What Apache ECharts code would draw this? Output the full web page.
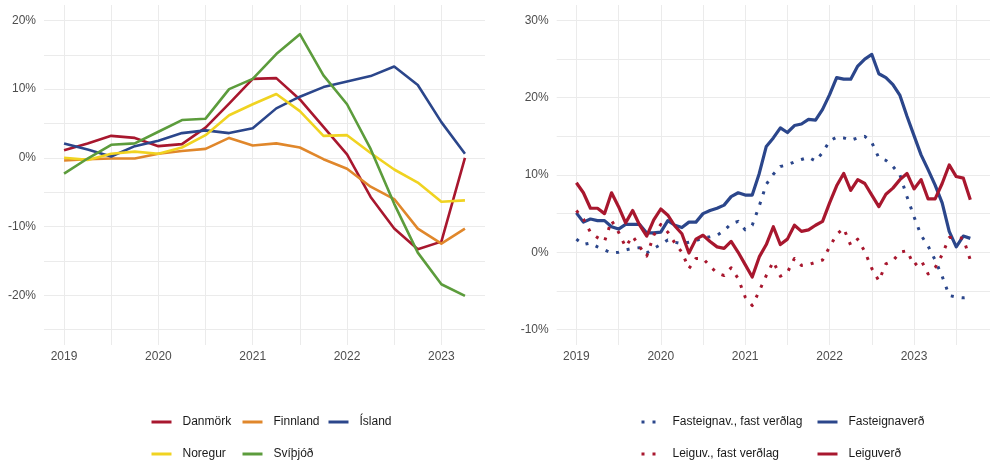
<!DOCTYPE html>
<html>
<head>
<meta charset="utf-8">
<script src="https://cdn.jsdelivr.net/npm/echarts@6/dist/echarts.min.js"></script>
<style>
  html, body { margin: 0; padding: 0; background: #fff; }
  #chart { width: 990px; height: 463px; }
</style>
</head>
<body>
<div id="chart"></div>
<script>
// Left panel: quarterly year-on-year change of house prices in the Nordics (%)
const quarters = [
  "2019-01", "2019-04", "2019-07", "2019-10",
  "2020-01", "2020-04", "2020-07", "2020-10",
  "2021-01", "2021-04", "2021-07", "2021-10",
  "2022-01", "2022-04", "2022-07", "2022-10",
  "2023-01", "2023-04",
];
const danmork = [1.1, 2.1, 3.2, 2.9, 1.7, 2.0, 4.4, 7.9, 11.5, 11.6, 8.5, 4.5, 0.5, -5.7, -10.3, -13.3, -12.2, 0.0];
const finnland = [-0.4, -0.2, -0.1, -0.1, 0.6, 1.0, 1.3, 2.9, 1.8, 2.1, 1.5, -0.2, -1.6, -4.2, -6.0, -10.3, -12.5, -10.3];
const island = [2.1, 1.2, 0.2, 1.7, 2.5, 3.6, 4.0, 3.6, 4.3, 7.2, 8.9, 10.3, 11.1, 11.9, 13.3, 10.6, 5.2, 0.6];
const noregur = [0.0, -0.3, 0.6, 0.9, 0.6, 1.5, 3.3, 6.2, 7.8, 9.3, 6.8, 3.2, 3.3, 0.7, -1.7, -3.6, -6.4, -6.2];
const svithjod = [-2.3, -0.1, 1.9, 2.1, 3.8, 5.5, 5.7, 10.0, 11.5, 15.1, 18.0, 12.0, 7.8, 1.3, -6.7, -13.8, -18.4, -20.1];

// Right panel: monthly year-on-year change, Iceland (%), Jan 2019 - Sep 2023
const months = [];
for (let y = 2019; y <= 2023; y++) {
  for (let m = 1; m <= 12; m++) {
    if (y === 2023 && m > 9) break;
    months.push(y + "-" + String(m).padStart(2, "0"));
  }
}
const fasteignaverd = [
  5.1, 3.9, 4.3, 4.1, 4.1, 3.3, 3.0, 3.6, 3.6, 3.6, 2.5, 2.5,
  2.6, 4.1, 3.5, 3.2, 3.9, 3.9, 5.0, 5.4, 5.7, 6.1, 7.2, 7.7,
  7.4, 7.4, 10.2, 13.7, 14.8, 16.1, 15.5, 16.4, 16.6, 17.2, 17.1, 18.5,
  20.4, 22.6, 22.4, 22.4, 24.1, 25.0, 25.6, 23.1, 22.6, 21.7, 20.3, 17.6,
  15.1, 12.6, 10.7, 8.7, 6.4, 2.7, 0.7, 2.1, 1.8,
];
const fasteignavFast = [
  1.7, 1.0, 1.2, 0.7, 0.3, -0.1, 0.0, 0.3, 0.5, 0.6, -0.1, 0.5,
  1.0, 1.6, 1.3, 1.1, 1.3, 1.5, 1.9, 2.0, 2.2, 2.8, 3.7, 4.0,
  2.9, 3.5, 6.0, 8.8, 10.1, 11.1, 11.3, 11.7, 12.0, 12.3, 11.8, 12.9,
  14.4, 14.9, 14.8, 14.5, 14.8, 15.0, 14.2, 12.2, 11.9, 11.1, 10.0, 7.2,
  4.6, 2.2, 0.8, -1.0, -3.1, -5.6, -5.8, -5.9, -5.8,
];
const leiguverd = [
  9.0, 7.7, 5.7, 5.7, 5.0, 7.7, 5.9, 3.8, 5.4, 3.5, 2.1, 4.2,
  5.6, 4.8, 3.4, 2.4, -0.1, 1.7, 2.2, 1.4, 0.7, 0.5, 1.4, 0.0,
  -1.6, -3.2, -0.6, 1.0, 3.3, 1.0, 1.7, 3.5, 2.7, 2.9, 3.5, 4.0,
  6.4, 8.6, 10.2, 8.0, 9.4, 8.9, 7.4, 5.9, 7.5, 8.3, 9.4, 10.2,
  8.2, 9.4, 6.9, 6.9, 8.9, 11.3, 9.8, 9.6, 6.8,
];
const leiguvFast = [
  5.4, 4.3, 2.6, 1.9, 1.4, 4.1, 2.6, 0.7, 2.1, 0.7, -0.5, 2.2,
  3.6, 2.6, 1.2, 0.0, -2.1, -0.8, -0.8, -1.8, -2.7, -3.0, -2.0, -3.4,
  -5.8, -6.9, -5.0, -3.0, -1.2, -3.1, -2.6, -0.8, -1.7, -1.6, -1.3, -1.0,
  0.7, 2.3, 3.1, 0.9, 1.7, 0.1, -2.1, -3.7, -1.5, -1.1, 0.0, 0.2,
  -1.7, -1.0, -2.8, -2.0, -0.3, 1.9, 1.9, 1.8, -1.0,
];

const leftTicks = [-25, -20, -15, -10, -5, 0, 5, 10, 15, 20];
const leftLabels = [-20, -10, 0, 10, 20];
const rightTicks = [-10, -5, 0, 5, 10, 15, 20, 25, 30];
const rightLabels = [-10, 0, 10, 20, 30];
const leftYears = [2019, 2019.5, 2020, 2020.5, 2021, 2021.5, 2022, 2022.5, 2023];
const rightYears = [2019, 2019.5, 2020, 2020.5, 2021, 2021.5, 2022, 2022.5, 2023, 2023.5];
const yearLabels = [2019, 2020, 2021, 2022, 2023];

const RED = "#a8172e";
const ORANGE = "#e0872b";
const BLUE = "#2b468b";
const YELLOW = "#f0d321";
const GREEN = "#5c9c3c";
const FONT = "Liberation Sans, Arial, sans-serif";

// "2021-04" -> 2021.25
function toYear(s) {
  return +s.slice(0, 4) + (+s.slice(5, 7) - 1) / 12;
}
function pairs(xs, ys) {
  return ys.map((v, i) => [toYear(xs[i]), v]);
}

const gridLine = { show: true, lineStyle: { color: "#ebebeb", width: 1 } };
const axisText = { color: "#4d4d4d", fontSize: 12, fontFamily: FONT };

function xAxisFor(idx, min, max, ticks) {
  return {
    type: "value",
    gridIndex: idx,
    min: min,
    max: max,
    axisLine: { show: false },
    axisTick: { show: false, customValues: ticks },
    splitLine: gridLine,
    axisLabel: Object.assign({ customValues: yearLabels, margin: 6, formatter: v => String(v) }, axisText),
  };
}
function yAxisFor(idx, min, max, ticks, labels) {
  return {
    type: "value",
    gridIndex: idx,
    min: min,
    max: max,
    axisLine: { show: false },
    axisTick: { show: false, customValues: ticks },
    splitLine: gridLine,
    axisLabel: Object.assign({ customValues: labels, margin: 8, formatter: v => v + "%" }, axisText),
  };
}

function lineSeries(name, idx, xs, ys, color, width, dotted) {
  return {
    name: name,
    type: "line",
    xAxisIndex: idx,
    yAxisIndex: idx,
    data: pairs(xs, ys),
    symbol: "none",
    silent: true,
    color: color,
    lineStyle: {
      color: color,
      width: width,
      type: dotted ? [3, 8] : "solid",
      cap: "butt",
      join: "round",
    },
  };
}

// one legend per key so the two-row grid matches the original placement
function legendAt(name, left, top) {
  return {
    data: [name],
    left: left,
    top: top,
    padding: 0,
    itemWidth: 20,
    itemHeight: 14,
    selectedMode: false,
    itemStyle: { opacity: 0 },
    lineStyle: { width: 3 },
    textStyle: { color: "#1a1a1a", fontSize: 12, fontFamily: FONT, padding: [0, 0, 0, 6] },
  };
}

const chart = echarts.init(document.getElementById("chart"), null, { renderer: "canvas" });
chart.setOption({
  animation: false,
  backgroundColor: "#ffffff",
  grid: [
    { left: 44, top: 5, width: 441, height: 340 },
    { left: 556.7, top: 5, width: 440.4, height: 340 },
  ],
  xAxis: [
    xAxisFor(0, 2018.7875, 2023.4625, leftYears),
    xAxisFor(1, 2018.767, 2023.9, rightYears),
  ],
  yAxis: [
    yAxisFor(0, -27.25, 22.25, leftTicks, leftLabels),
    yAxisFor(1, -12, 32, rightTicks, rightLabels),
  ],
  legend: [
    legendAt("Danmörk", 150, 416),
    legendAt("Finnland", 241, 416),
    legendAt("Ísland", 327, 416),
    legendAt("Noregur", 150, 448),
    legendAt("Svíþjóð", 241, 448),
    legendAt("Fasteignav., fast verðlag", 640, 416),
    legendAt("Fasteignaverð", 816, 416),
    legendAt("Leiguv., fast verðlag", 640, 448),
    legendAt("Leiguverð", 816, 448),
  ],
  series: [
    lineSeries("Danmörk", 0, quarters, danmork, RED, 2.6),
    lineSeries("Finnland", 0, quarters, finnland, ORANGE, 2.6),
    lineSeries("Ísland", 0, quarters, island, BLUE, 2.6),
    lineSeries("Noregur", 0, quarters, noregur, YELLOW, 2.6),
    lineSeries("Svíþjóð", 0, quarters, svithjod, GREEN, 2.6),
    lineSeries("Fasteignav., fast verðlag", 1, months, fasteignavFast, BLUE, 3, true),
    lineSeries("Fasteignaverð", 1, months, fasteignaverd, BLUE, 3.2),
    lineSeries("Leiguv., fast verðlag", 1, months, leiguvFast, RED, 3, true),
    lineSeries("Leiguverð", 1, months, leiguverd, RED, 3.2),
  ],
});
</script>
</body>
</html>
